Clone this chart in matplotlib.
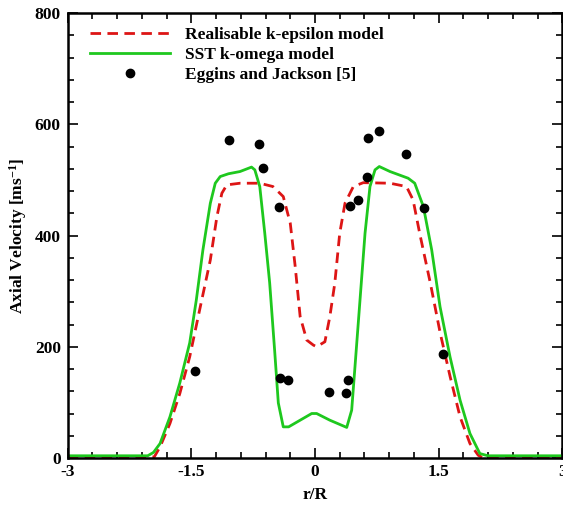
import matplotlib
matplotlib.use('Agg')
import matplotlib.pyplot as plt
from matplotlib.ticker import MultipleLocator, FixedLocator

# Realisable k-epsilon (red dashed)
ke_r = [-3.0, -1.95, -1.88, -1.76, -1.64, -1.52, -1.40, -1.27, -1.19, -1.13, -1.07, -0.91,
        -0.67, -0.51, -0.385, -0.30, -0.24, -0.18, -0.10, -0.02, 0.02, 0.12, 0.18, 0.24,
        0.30, 0.364, 0.465, 0.586, 0.91, 1.11, 1.19, 1.27, 1.40, 1.52, 1.64, 1.76, 1.88,
        1.98, 2.04, 3.0]
ke_v = [0, 2, 20, 62, 116, 182, 266, 356, 434, 476, 491, 494,
        494, 488, 470, 422, 344, 254, 212, 203, 200, 209, 254, 314,
        404, 458, 488, 495, 494, 488, 464, 404, 314, 224, 146, 74, 26,
        5, 0, 0]

# SST k-omega (green solid)
kw_r = [-3.0, -2.03, -1.96, -1.88, -1.76, -1.64, -1.52, -1.44, -1.36, -1.27, -1.21, -1.15,
        -1.05, -0.91, -0.77, -0.73, -0.67, -0.61, -0.55, -0.49, -0.445, -0.385, -0.32,
        -0.18, -0.04, 0.02, 0.18, 0.385, 0.445, 0.485, 0.546, 0.607, 0.667, 0.728, 0.78,
        0.91, 1.13, 1.21, 1.315, 1.416, 1.517, 1.638, 1.76, 1.88, 2.0, 2.1, 3.0]
kw_v = [4, 4, 10, 26, 74, 135, 207, 284, 374, 458, 494, 506,
        511, 515, 523, 518, 488, 405, 315, 194, 99, 56, 56,
        68, 80, 80, 68, 55, 86, 164, 284, 404, 488, 518, 524,
        515, 503, 494, 452, 374, 272, 182, 104, 44, 8, 4, 4]

# Eggins and Jackson [5]
exp_r = [-1.456, -1.04, -0.676, -0.635, -0.437, -0.425, -0.331, 0.174, 0.373, 0.404,
         0.425, 0.525, 0.627, 0.643, 0.773, 1.10, 1.326, 1.55]
exp_v = [157, 571, 564, 522, 451, 143, 140, 118, 116, 140,
         453, 463, 505, 575, 588, 547, 449, 187]

xticks = [-3, -1.5, 0, 1.5, 3]
xticklabels = ['-3', '-1.5', '0', '1.5', '3']
yticks = [0, 200, 400, 600, 800]

plt.rcParams['font.family'] = ['Liberation Serif', 'DejaVu Serif']
plt.rcParams['font.weight'] = 'bold'
plt.rcParams['mathtext.fontset'] = 'custom'
plt.rcParams['mathtext.rm'] = 'Liberation Serif:bold'
plt.rcParams['mathtext.default'] = 'rm'

fs = 12.5

fig = plt.figure(figsize=(5.63, 5.08), dpi=100)
ax = fig.add_axes([0.1203, 0.0984, 0.8784, 0.8760])

ax.plot(ke_r, ke_v, color='#dd1515', lw=2.0, dashes=(3.8, 2.3), label='Realisable k-epsilon model')
ax.plot(kw_r, kw_v, color='#1ec81e', lw=2.0, label='SST k-omega model')
ax.plot(exp_r, exp_v, 'o', color='black', ms=6, label='Eggins and Jackson [5]')

ax.set_xlim(-3, 3)
ax.set_ylim(0, 800)
ax.xaxis.set_major_locator(FixedLocator(xticks))
ax.set_xticklabels(xticklabels)
ax.xaxis.set_minor_locator(MultipleLocator(0.3))
ax.yaxis.set_major_locator(FixedLocator(yticks))
ax.yaxis.set_minor_locator(MultipleLocator(40))
ax.tick_params(which='both', direction='in', top=True, right=True, labelsize=fs, width=1.2)
ax.tick_params(which='major', length=7)
ax.tick_params(axis='x', which='major', pad=4)
ax.tick_params(axis='y', which='major', pad=5)
ax.tick_params(which='minor', length=4)
for s in ax.spines.values():
    s.set_linewidth(1.8)

ax.set_xlabel('r/R', fontsize=fs, fontweight='bold', labelpad=5)
ax.set_ylabel('Axial Velocity [ms$^{-1}$]', fontsize=fs, fontweight='bold', labelpad=4)

ax.legend(loc='upper left', bbox_to_anchor=(0.045, 0.968), frameon=False, fontsize=fs,
          handlelength=4.6, handletextpad=0.85, labelspacing=0.22, borderpad=0, borderaxespad=0)

fig.savefig('out.png', dpi=100)
